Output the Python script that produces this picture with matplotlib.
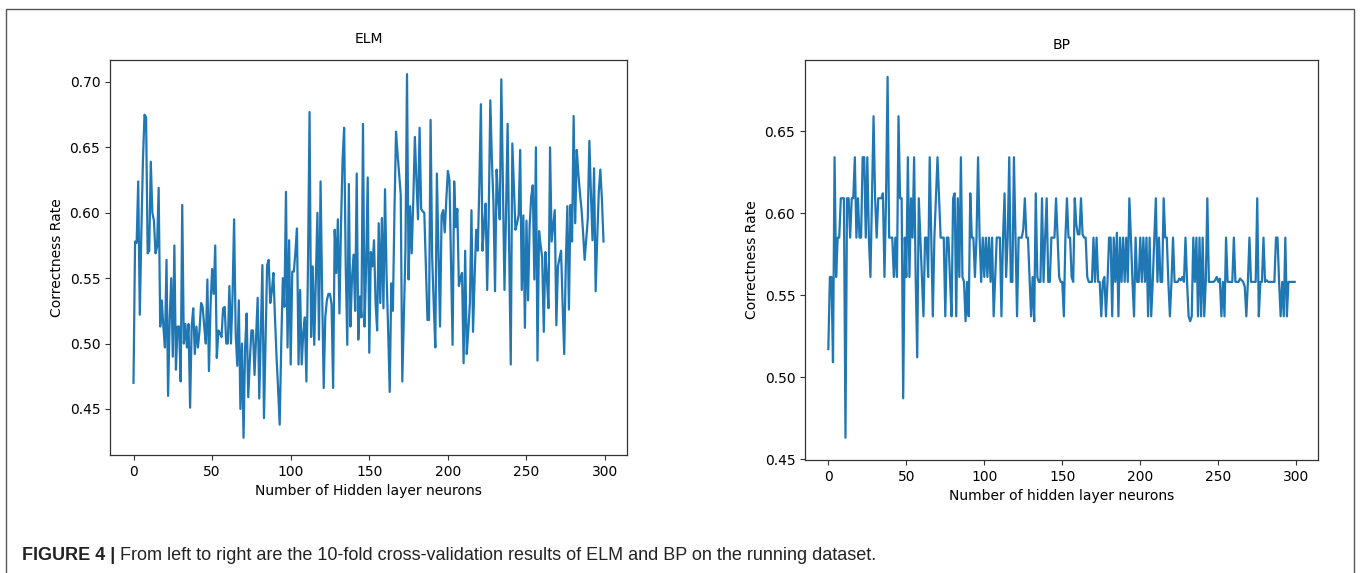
import numpy as np
import matplotlib
matplotlib.use("Agg")
import matplotlib.pyplot as plt
from matplotlib.patches import Rectangle

# ---------------- data ----------------
elm_rate = [
    0.470, 0.578, 0.577, 0.624, 0.522, 0.585, 0.640, 0.675, 0.673, 0.569,
    0.571, 0.639, 0.600, 0.594, 0.569, 0.574, 0.619, 0.513, 0.533, 0.513,
    0.497, 0.564, 0.460, 0.518, 0.550, 0.490, 0.575, 0.480, 0.513, 0.513,
    0.471, 0.606, 0.500, 0.515, 0.497, 0.515, 0.451, 0.513, 0.527, 0.492,
    0.513, 0.497, 0.510, 0.531, 0.528, 0.513, 0.500, 0.549, 0.479, 0.528,
    0.557, 0.538, 0.575, 0.489, 0.510, 0.508, 0.505, 0.527, 0.528, 0.500,
    0.500, 0.544, 0.500, 0.536, 0.595, 0.508, 0.483, 0.533, 0.450, 0.500,
    0.428, 0.497, 0.523, 0.459, 0.487, 0.510, 0.510, 0.476, 0.505, 0.535,
    0.458, 0.510, 0.560, 0.443, 0.500, 0.560, 0.564, 0.531, 0.540, 0.554,
    0.520, 0.490, 0.465, 0.438, 0.500, 0.550, 0.528, 0.616, 0.497, 0.579,
    0.484, 0.555, 0.555, 0.570, 0.588, 0.484, 0.541, 0.484, 0.508, 0.520,
    0.471, 0.560, 0.677, 0.505, 0.559, 0.499, 0.550, 0.600, 0.503, 0.624,
    0.540, 0.466, 0.520, 0.533, 0.538, 0.538, 0.530, 0.466, 0.587, 0.554,
    0.595, 0.523, 0.590, 0.640, 0.665, 0.560, 0.499, 0.622, 0.513, 0.550,
    0.568, 0.525, 0.630, 0.503, 0.536, 0.520, 0.668, 0.513, 0.560, 0.627,
    0.493, 0.570, 0.559, 0.579, 0.531, 0.510, 0.592, 0.531, 0.596, 0.527,
    0.618, 0.552, 0.510, 0.463, 0.546, 0.525, 0.600, 0.662, 0.645, 0.630,
    0.614, 0.471, 0.520, 0.571, 0.706, 0.549, 0.605, 0.569, 0.610, 0.658,
    0.625, 0.595, 0.665, 0.603, 0.601, 0.600, 0.560, 0.518, 0.518, 0.671,
    0.566, 0.530, 0.497, 0.630, 0.570, 0.513, 0.598, 0.602, 0.585, 0.610,
    0.632, 0.625, 0.560, 0.499, 0.624, 0.589, 0.603, 0.544, 0.550, 0.554,
    0.485, 0.571, 0.492, 0.510, 0.531, 0.602, 0.509, 0.550, 0.587, 0.571,
    0.620, 0.683, 0.571, 0.590, 0.607, 0.541, 0.600, 0.686, 0.640, 0.607,
    0.540, 0.633, 0.610, 0.595, 0.702, 0.620, 0.541, 0.600, 0.668, 0.570,
    0.484, 0.653, 0.620, 0.587, 0.592, 0.598, 0.648, 0.541, 0.598, 0.512,
    0.594, 0.533, 0.590, 0.612, 0.621, 0.549, 0.650, 0.487, 0.586, 0.575,
    0.566, 0.509, 0.570, 0.550, 0.527, 0.650, 0.578, 0.590, 0.602, 0.514,
    0.559, 0.565, 0.571, 0.530, 0.492, 0.560, 0.605, 0.526, 0.606, 0.578,
    0.674, 0.592, 0.648, 0.630, 0.615, 0.603, 0.585, 0.564, 0.580, 0.595,
    0.655, 0.615, 0.579, 0.634, 0.540, 0.580, 0.616, 0.633, 0.610, 0.578,
]

bp_rate = [
    0.517, 0.561, 0.561, 0.509, 0.634, 0.561, 0.585, 0.585, 0.609, 0.609,
    0.609, 0.463, 0.609, 0.609, 0.585, 0.609, 0.609, 0.634, 0.585, 0.609,
    0.585, 0.585, 0.634, 0.634, 0.585, 0.634, 0.585, 0.561, 0.609, 0.659,
    0.609, 0.585, 0.609, 0.609, 0.609, 0.612, 0.561, 0.609, 0.683, 0.585,
    0.585, 0.585, 0.561, 0.585, 0.561, 0.659, 0.609, 0.609, 0.487, 0.585,
    0.561, 0.634, 0.561, 0.609, 0.585, 0.634, 0.561, 0.512, 0.609, 0.585,
    0.561, 0.537, 0.585, 0.585, 0.561, 0.634, 0.585, 0.537, 0.585, 0.609,
    0.634, 0.609, 0.585, 0.585, 0.585, 0.537, 0.585, 0.585, 0.560, 0.537,
    0.609, 0.612, 0.537, 0.609, 0.561, 0.634, 0.561, 0.558, 0.534, 0.558,
    0.537, 0.612, 0.585, 0.585, 0.561, 0.585, 0.634, 0.585, 0.558, 0.585,
    0.561, 0.585, 0.561, 0.585, 0.558, 0.585, 0.537, 0.561, 0.585, 0.585,
    0.585, 0.537, 0.585, 0.612, 0.561, 0.585, 0.634, 0.558, 0.558, 0.634,
    0.585, 0.537, 0.585, 0.585, 0.585, 0.590, 0.609, 0.585, 0.585, 0.561,
    0.537, 0.561, 0.534, 0.612, 0.561, 0.558, 0.558, 0.609, 0.558, 0.585,
    0.609, 0.558, 0.558, 0.585, 0.585, 0.585, 0.609, 0.585, 0.561, 0.558,
    0.558, 0.537, 0.585, 0.609, 0.585, 0.585, 0.561, 0.558, 0.609, 0.593,
    0.587, 0.587, 0.609, 0.587, 0.585, 0.585, 0.561, 0.558, 0.558, 0.558,
    0.585, 0.558, 0.585, 0.558, 0.558, 0.537, 0.558, 0.561, 0.537, 0.558,
    0.585, 0.585, 0.537, 0.585, 0.558, 0.588, 0.537, 0.585, 0.558, 0.585,
    0.558, 0.585, 0.558, 0.609, 0.585, 0.558, 0.537, 0.585, 0.558, 0.558,
    0.585, 0.558, 0.585, 0.558, 0.585, 0.537, 0.585, 0.537, 0.558, 0.585,
    0.609, 0.558, 0.585, 0.558, 0.558, 0.609, 0.585, 0.585, 0.558, 0.537,
    0.558, 0.585, 0.558, 0.558, 0.558, 0.560, 0.559, 0.561, 0.558, 0.585,
    0.558, 0.537, 0.534, 0.537, 0.585, 0.558, 0.585, 0.537, 0.585, 0.537,
    0.585, 0.537, 0.558, 0.609, 0.558, 0.558, 0.558, 0.558, 0.559, 0.561,
    0.558, 0.560, 0.537, 0.558, 0.537, 0.585, 0.558, 0.558, 0.558, 0.558,
    0.585, 0.558, 0.558, 0.558, 0.560, 0.559, 0.558, 0.555, 0.537, 0.558,
    0.585, 0.558, 0.558, 0.558, 0.558, 0.609, 0.537, 0.558, 0.558, 0.585,
    0.558, 0.559, 0.558, 0.558, 0.558, 0.558, 0.558, 0.585, 0.585, 0.558,
    0.537, 0.558, 0.537, 0.585, 0.537, 0.558, 0.558, 0.558, 0.558, 0.558,
]

titles = ["ELM", "BP"]
xlabels = ["Number of Hidden layer neurons", "Number of hidden layer neurons"]
ylabel = "Correctness Rate"
caption_bold = "FIGURE 4 |"
caption_rest = " From left to right are the 10-fold cross-validation results of ELM and BP on the running dataset."

# ---------------- figure ----------------
W, H = 1360, 573
fig = plt.figure(figsize=(W / 100, H / 100), dpi=100)
plt.rcParams['font.family'] = ['DejaVu Sans']

def frac_box(x0, y0, x1, y1):
    return [x0 / W, 1 - y1 / H, (x1 - x0) / W, (y1 - y0) / H]

ax1 = fig.add_axes(frac_box(110, 60, 627, 455))
ax2 = fig.add_axes(frac_box(805, 60, 1318, 460))

line_color = "#1f77b4"
for ax, data, title, xl, ylim, tpad in [
    (ax1, elm_rate, titles[0], xlabels[0], (0.4148, 0.7168), 12),
    (ax2, bp_rate, titles[1], xlabels[1], (0.4494, 0.6933), 8),
]:
    x = np.arange(len(data))
    ax.plot(x, data, color=line_color, lw=1.6)
    ax.set_ylim(*ylim)
    ax.set_xticks([0, 50, 100, 150, 200, 250, 300])
    ax.set_title(title, fontsize=10, pad=tpad)
    ax.set_xlabel(xl, fontsize=10)
    ax.set_ylabel(ylabel, fontsize=10)
    ax.tick_params(labelsize=10, color="#333333")
    for s in ax.spines.values():
        s.set_color("#333333")
        s.set_linewidth(0.9)

# overlay for caption and border
bg = fig.add_axes([0, 0, 1, 1], zorder=-1)
bg.set_xlim(0, W)
bg.set_ylim(H, 0)
bg.axis("off")
bg.add_patch(Rectangle((6, 9), 1348, 600, fill=False, edgecolor="#555555", lw=1.0))

cap_font = ["Liberation Sans", "DejaVu Sans"]
t1 = bg.text(22, 556, caption_bold, fontsize=13, fontweight="bold",
             family=cap_font, color="#222222", va="center", ha="left")
bg.annotate(caption_rest, xy=(1, 0.5), xycoords=t1, va="center", ha="left",
            fontsize=13, family=cap_font, color="#222222")

fig.savefig("out.png", dpi=100)
